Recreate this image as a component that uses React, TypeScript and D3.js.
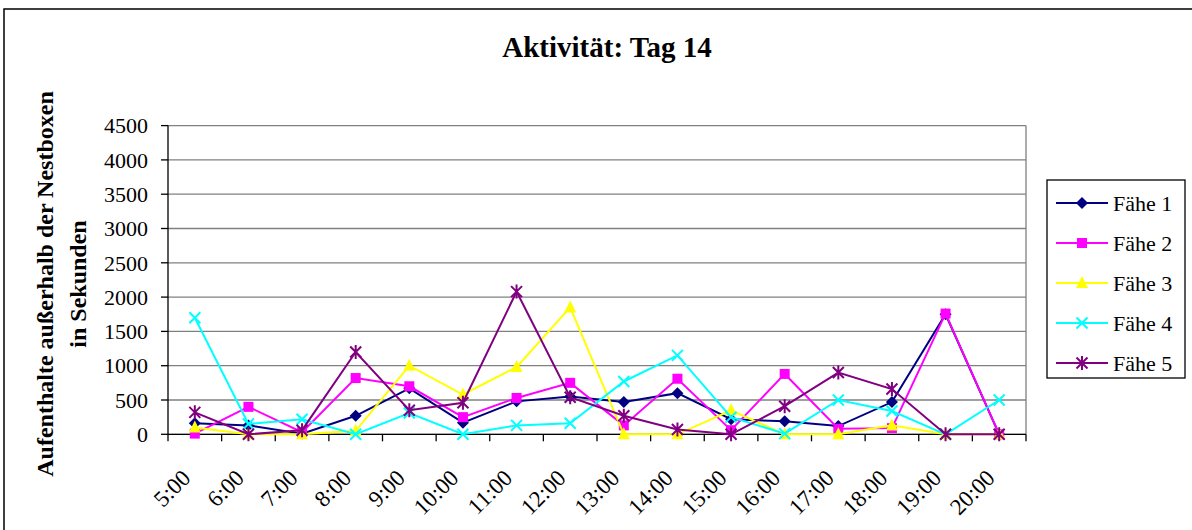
import React from "react";
import * as d3 from "d3";

const categories = ["5:00","6:00","7:00","8:00","9:00","10:00","11:00","12:00","13:00","14:00","15:00","16:00","17:00","18:00","19:00","20:00"];
const seriesNames = ["Fähe 1","Fähe 2","Fähe 3","Fähe 4","Fähe 5"];
const faehe1 = [160,130,10,270,670,170,480,550,470,600,220,190,120,470,1750,0];
const faehe2 = [10,400,30,820,700,250,530,750,130,810,60,880,80,90,1760,0];
const faehe3 = [100,0,0,50,1000,580,980,1850,0,0,350,0,0,130,0,0];
const faehe4 = [1700,150,220,0,310,0,130,160,770,1150,250,10,500,340,0,500];
const faehe5 = [320,0,60,1200,350,460,2080,540,270,70,0,410,900,660,0,0];
const yTicks = [0,500,1000,1500,2000,2500,3000,3500,4000,4500];

const allSeries = [faehe1, faehe2, faehe3, faehe4, faehe5];
const colors = ["#000080","#FF00FF","#FFFF00","#00FFFF","#800080"];
const markers = ["diamond","square","triangle","x","star"];

const font = "'Liberation Serif','Times New Roman',serif";

function Marker({ type, x, y, color }: { type: string; x: number; y: number; color: string }) {
  if (type === "diamond") {
    const s = 6;
    return <path d={`M${x},${y - s}L${x + s},${y}L${x},${y + s}L${x - s},${y}Z`} fill={color} />;
  }
  if (type === "square") {
    const s = 5;
    return <rect x={x - s} y={y - s} width={2 * s} height={2 * s} fill={color} />;
  }
  if (type === "triangle") {
    const s = 6;
    return <path d={`M${x},${y - s - 1}L${x + s},${y + s - 1}L${x - s},${y + s - 1}Z`} fill={color} />;
  }
  if (type === "x") {
    const s = 5.5;
    return <path d={`M${x - s},${y - s}L${x + s},${y + s}M${x - s},${y + s}L${x + s},${y - s}`} stroke={color} strokeWidth={2} />;
  }
  const s = 5.5;
  return <path d={`M${x - s},${y - s}L${x + s},${y + s}M${x - s},${y + s}L${x + s},${y - s}M${x},${y - s - 1.5}L${x},${y + s + 1.5}`} stroke={color} strokeWidth={2} />;
}

export default function App() {
  const left = 168, right = 1026, top = 125.6, bottom = 434.3;
  const x = d3.scaleBand<string>().domain(categories).range([left, right]).paddingInner(0).paddingOuter(0);
  const y = d3.scaleLinear().domain([0, 4500]).range([bottom, top]);
  const cx = (c: string) => (x(c) as number) + x.bandwidth() / 2;
  const line = d3.line<number>().x((_, i) => cx(categories[i])).y((d) => y(d));

  return (
    <svg width={1192} height={530} style={{ position: "absolute", left: 0, top: 0, background: "#fff" }} fontFamily={font}>
      <rect x={0} y={0} width={1192} height={530} fill="#fff" />
      <rect x={4} y={9} width={1300} height={600} fill="none" stroke="#000" strokeWidth={1.5} />
      <text x={607} y={57} textAnchor="middle" fontSize={29} fontWeight="bold">Aktivität: Tag 14</text>

      {/* gridlines */}
      {yTicks.map((t) => (
        <line key={"g" + t} x1={left} x2={right} y1={y(t)} y2={y(t)} stroke="#808080" strokeWidth={1.3} />
      ))}
      <line x1={right} x2={right} y1={top} y2={bottom} stroke="#808080" strokeWidth={1.3} />

      {/* y axis */}
      <line x1={left} x2={left} y1={top} y2={bottom} stroke="#000" strokeWidth={1.3} />
      {yTicks.map((t) => (
        <g key={"t" + t}>
          <line x1={left - 7} x2={left} y1={y(t)} y2={y(t)} stroke="#000" strokeWidth={1.3} />
          <text x={left - 20} y={y(t)} dy="0.35em" textAnchor="end" fontSize={22}>{t}</text>
        </g>
      ))}

      {/* x axis */}
      <line x1={left} x2={right} y1={bottom} y2={bottom} stroke="#000" strokeWidth={1.3} />
      {categories.map((c, i) => (
        <line key={"xt" + i} x1={x(c) as number} x2={x(c) as number} y1={bottom} y2={bottom + 7} stroke="#000" strokeWidth={1.3} />
      ))}
      <line x1={right} x2={right} y1={bottom} y2={bottom + 7} stroke="#000" strokeWidth={1.3} />
      {categories.map((c) => (
        <text key={"xl" + c} transform={`translate(${cx(c) - 3},${bottom + 45}) rotate(-45)`} textAnchor="end" fontSize={23}>{c}</text>
      ))}

      {/* y axis title */}
      <text transform={`translate(53,284) rotate(-90)`} textAnchor="middle" fontSize={24} fontWeight="bold">Aufenthalte außerhalb der Nestboxen</text>
      <text transform={`translate(86,284) rotate(-90)`} textAnchor="middle" fontSize={24} fontWeight="bold">in Sekunden</text>

      {/* series */}
      {allSeries.map((s, si) => (
        <g key={"s" + si}>
          <path d={line(s) || ""} fill="none" stroke={colors[si]} strokeWidth={2} />
          {s.map((v, i) => (
            <Marker key={i} type={markers[si]} x={cx(categories[i])} y={y(v)} color={colors[si]} />
          ))}
        </g>
      ))}

      {/* legend */}
      <rect x={1047} y={180} width={138} height={198} fill="#fff" stroke="#000" strokeWidth={1.3} />
      {seriesNames.map((n, i) => {
        const ly = 203 + i * 40;
        return (
          <g key={"l" + i}>
            <line x1={1056} x2={1108} y1={ly} y2={ly} stroke={colors[i]} strokeWidth={2} />
            <Marker type={markers[i]} x={1082} y={ly} color={colors[i]} />
            <text x={1113} y={ly} dy="0.35em" fontSize={22}>{n}</text>
          </g>
        );
      })}
    </svg>
  );
}
